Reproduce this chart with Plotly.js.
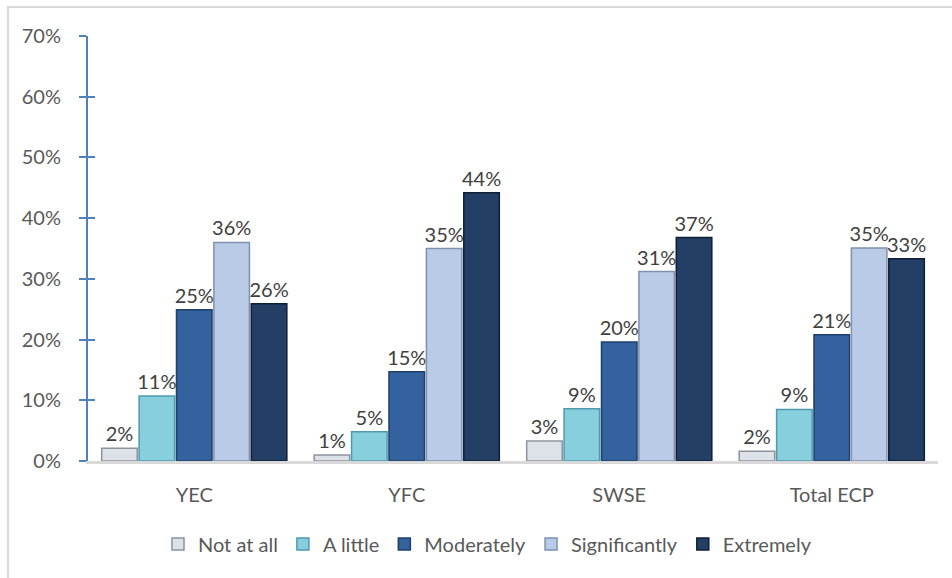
<!DOCTYPE html>
<html>
<head>
<meta charset="utf-8">
<script src="https://cdn.plot.ly/plotly-3.0.1.min.js"></script>
<style>
  html, body { margin: 0; padding: 0; background: #ffffff; }
  #frame { position: absolute; left: 7px; top: 6px; width: 960px; height: 600px;
           border-left: 2px solid #d9d9d9; border-top: 2px solid #d9d9d9; box-sizing: border-box; }
  #chart { position: absolute; left: 0; top: 0; width: 952px; height: 578px; }
</style>
</head>
<body>
<div id="frame"></div>
<div id="chart"></div>
<script>
var categories = ["YEC", "YFC", "SWSE", "Total ECP"];
var seriesNames = ["Not at all", "A little", "Moderately", "Significantly", "Extremely"];
var notAtAll      = [0.021, 0.010, 0.033, 0.016];
var aLittle       = [0.107, 0.048, 0.086, 0.085];
var moderately    = [0.249, 0.147, 0.196, 0.208];
var significantly = [0.360, 0.350, 0.312, 0.351];
var extremely     = [0.259, 0.442, 0.368, 0.333];
var yTicks = [0, 0.1, 0.2, 0.3, 0.4, 0.5, 0.6, 0.7];

var seriesValues = [notAtAll, aLittle, moderately, significantly, extremely];
var fills = ["#dde1e8", "#87cfdd", "#33629f", "#b9cbe6", "#243f66"];
var edges = ["#8d939d", "#4d9aae", "#1f3f6b", "#7f91ae", "#0f1e33"];
var FONT = "Lato, 'Open Sans', sans-serif";

var traces = seriesValues.map(function (vals, i) {
  return {
    type: "bar",
    name: seriesNames[i],
    x: categories,
    y: vals,
    marker: { color: fills[i], line: { color: edges[i], width: 1.5 } },
    texttemplate: "%{y:.0%}",
    textposition: "outside",
    constraintext: "none",
    textfont: { family: FONT, size: 20, color: "#404040" },
    cliponaxis: false,
    hoverinfo: "skip"
  };
});
// overlay trace for inner tick marks on the y-axis
traces.push({ type: "scatter", x: [categories[0]], y: [0], yaxis: "y2", mode: "markers",
  marker: { opacity: 0 }, showlegend: false, hoverinfo: "skip" });

var layout = {
  width: 952, height: 578,
  margin: { l: 88, r: 14, t: 36, b: 117 },
  paper_bgcolor: "rgba(0,0,0,0)",
  plot_bgcolor: "rgba(0,0,0,0)",
  barmode: "group",
  bargap: 0.12,
  bargroupgap: 0.05,
  uniformtext: { mode: false },
  font: { family: FONT, size: 20, color: "#595959" },
  xaxis: {
    showline: true, linecolor: "#d9d9d9", linewidth: 3,
    ticks: "", showgrid: false, zeroline: false,
    ticklabelstandoff: 14,
    tickfont: { size: 20, color: "#595959" }
  },
  yaxis: {
    range: [0, 0.7], tickvals: yTicks, tickformat: ".0%",
    showline: true, linecolor: "#4f81bd", linewidth: 2,
    ticks: "outside", ticklen: 7, tickcolor: "#4f81bd", tickwidth: 2,
    showgrid: false, zeroline: false,
    ticklabelstandoff: 14,
    tickfont: { size: 20, color: "#595959" }
  },
  yaxis2: {
    overlaying: "y", range: [0, 0.7], tickvals: yTicks,
    showticklabels: false, showline: false, showgrid: false, zeroline: false,
    ticks: "inside", ticklen: 7, tickcolor: "#4f81bd", tickwidth: 2
  },
  legend: {
    orientation: "h", x: 0.47, xanchor: "center", y: -0.195, yanchor: "middle",
    font: { size: 20, color: "#595959" },
    itemwidth: 30, tracegroupgap: 0
  },
  showlegend: true
};

Plotly.newPlot("chart", traces, layout, { displayModeBar: false, staticPlot: true });
</script>
</body>
</html>
